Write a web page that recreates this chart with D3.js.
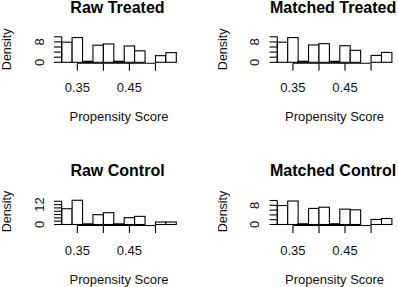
<!DOCTYPE html>
<html>
<head>
<meta charset="utf-8">
<script src="https://cdn.jsdelivr.net/npm/d3@7"></script>
<style>
  body { margin: 0; background: #fff; }
  svg { display: block; font-family: "Liberation Sans", Arial, sans-serif; }
</style>
</head>
<body>
<svg width="398" height="287"></svg>
<script>
// histogram breaks (bin width 0.02)
var breaks = [0.32, 0.34, 0.36, 0.38, 0.40, 0.42, 0.44, 0.46, 0.48, 0.50, 0.52, 0.54];

// densities per bin
var rawTreated     = [7.9, 9.7, 0.4, 6.7, 7.2, 0.4, 6.4, 4.5, 0, 2.6, 3.8];
var matchedTreated = [7.9, 9.7, 0.4, 6.8, 7.3, 0.4, 6.5, 4.7, 0, 2.7, 3.9];
var rawControl     = [9.5, 14.6, 0.4, 5.9, 7.1, 0.4, 4.1, 4.9, 0, 1.5, 1.5];
var matchedControl = [7.9, 9.8, 0.3, 6.7, 7.2, 0.3, 6.4, 6.1, 0, 2.1, 2.5];

var titles = ["Raw Treated", "Matched Treated", "Raw Control", "Matched Control"];
var xTicks = [0.35, 0.40, 0.45, 0.50];
var xTickLabels = [0.35, 0.45];
var yTicksTreated = [0, 2, 4, 6, 8, 10];
var yTicksControl = [0, 2, 4, 6, 8, 10, 12, 14];

var svg = d3.select("svg");

// panel layout (plot left edge, baseline)
var panels = [
    {title: titles[0], data: rawTreated,     left: 61.7,  base: 62.3,  ticks: yTicksTreated, labels: [0, 8]},
    {title: titles[1], data: matchedTreated, left: 277.3, base: 62.3,  ticks: yTicksTreated, labels: [0, 8]},
    {title: titles[2], data: rawControl,     left: 61.7,  base: 224.5, ticks: yTicksControl, labels: [0, 12]},
    {title: titles[3], data: matchedControl, left: 277.3, base: 224.5, ticks: yTicksTreated, labels: [0, 8]}
];
var pxPerUnit = [2.55, 2.55, 1.66, 2.4];

panels.forEach(function(p, i) {
    var g = svg.append("g");

    var x = d3.scaleLinear().domain([0.32, 0.54]).range([p.left, p.left + 114.6]);
    var y = d3.scaleLinear().domain([0, 1]).range([p.base, p.base - pxPerUnit[i]]);
    var cx = (x.range()[0] + x.range()[1]) / 2;

    // bars
    g.selectAll("rect.bar")
        .data(p.data)
        .enter().append("rect")
        .attr("class", "bar")
        .attr("x", function(d, j) { return x(breaks[j]); })
        .attr("y", function(d) { return y(d); })
        .attr("width", function(d, j) { return x(breaks[j + 1]) - x(breaks[j]); })
        .attr("height", function(d) { return Math.max(0, y(0) - y(d)); })
        .attr("fill", "#fff")
        .attr("stroke", "#000")
        .attr("stroke-width", 1.1);

    // x axis (R style: line from first to last tick)
    var ax = p.base + 1;
    g.append("line")
        .attr("x1", x(xTicks[0])).attr("x2", x(xTicks[xTicks.length - 1]))
        .attr("y1", ax).attr("y2", ax)
        .attr("stroke", "#000").attr("stroke-width", 1.1);
    g.selectAll("line.xt")
        .data(xTicks)
        .enter().append("line")
        .attr("class", "xt")
        .attr("x1", function(d) { return x(d); })
        .attr("x2", function(d) { return x(d); })
        .attr("y1", ax).attr("y2", ax + 7.5)
        .attr("stroke", "#000").attr("stroke-width", 1.1);
    g.selectAll("text.xl")
        .data(xTickLabels)
        .enter().append("text")
        .attr("class", "xl")
        .attr("x", function(d) { return x(d); })
        .attr("y", ax + 29)
        .attr("text-anchor", "middle")
        .attr("font-size", 13)
        .attr("fill", "#111")
        .text(function(d) { return d3.format(".2f")(d); });

    // y axis
    var yx = x(0.32);
    g.append("line")
        .attr("x1", yx).attr("x2", yx)
        .attr("y1", y(0)).attr("y2", y(p.ticks[p.ticks.length - 1]))
        .attr("stroke", "#000").attr("stroke-width", 1.1);
    g.selectAll("line.yt")
        .data(p.ticks)
        .enter().append("line")
        .attr("class", "yt")
        .attr("x1", yx - 7.7).attr("x2", yx)
        .attr("y1", function(d) { return y(d); })
        .attr("y2", function(d) { return y(d); })
        .attr("stroke", "#000").attr("stroke-width", 1.1);
    g.selectAll("text.yl")
        .data(p.labels)
        .enter().append("text")
        .attr("class", "yl")
        .attr("transform", function(d) { return "translate(" + (yx - 18) + "," + y(d) + ") rotate(-90)"; })
        .attr("text-anchor", "middle")
        .attr("font-size", 13)
        .attr("fill", "#111")
        .text(function(d) { return d; });

    // labels
    g.append("text")
        .attr("transform", "translate(" + (yx - 50.5) + "," + (p.base - 13) + ") rotate(-90)")
        .attr("text-anchor", "middle")
        .attr("font-size", 12.5)
        .attr("fill", "#111")
        .text("Density");

    g.append("text")
        .attr("x", cx).attr("y", p.base + 59)
        .attr("text-anchor", "middle")
        .attr("font-size", 13)
        .attr("fill", "#111")
        .text("Propensity Score");

    g.append("text")
        .attr("x", cx - 1.5).attr("y", p.base - 49)
        .attr("text-anchor", "middle")
        .attr("font-size", 16)
        .attr("font-weight", "bold")
        .text(p.title);
});
</script>
</body>
</html>
